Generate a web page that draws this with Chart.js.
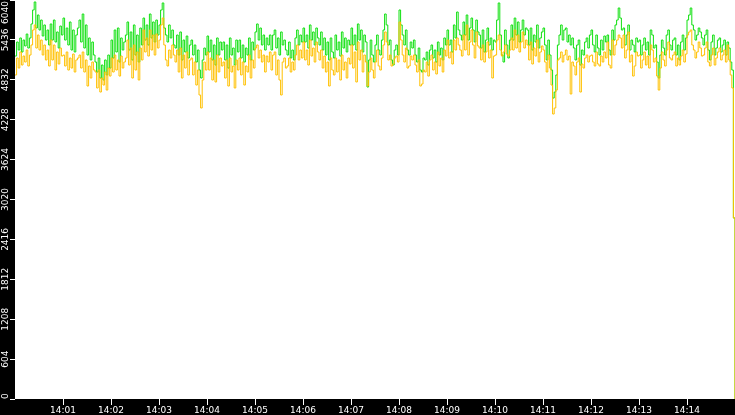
<!DOCTYPE html>
<html>
<head>
<meta charset="utf-8">
<script src="https://cdn.jsdelivr.net/npm/chart.js@4.4.1/dist/chart.umd.min.js"></script>
<style>
  html, body { margin: 0; padding: 0; background: #000; }
  #wrap { width: 735px; height: 415px; }
</style>
</head>
<body>
<div id="wrap"><canvas id="rateChart"></canvas></div>
<script>
// samples every 2 s starting at 14:00:00
const START_HOUR = 14;
const SAMPLE_SEC = 2;

const xTickSeconds = [60, 120, 180, 240, 300, 360, 420, 480, 540, 600, 660, 720, 780, 840];
const yTickValues = [0, 604, 1208, 1812, 2416, 3020, 3624, 4228, 4832, 5436, 6040];

const greenSeries = [
    5192, 5404, 5283, 5465, 5253, 5434, 5344, 5525, 5313, 5465,
    5677, 5889, 6010, 5616, 5813, 5586, 5737, 5495, 5662, 5434,
    5586, 5359, 5677, 5434, 5737, 5404, 5556, 5313, 5646, 5510,
    5767, 5434, 5616, 5359, 5707, 5283, 5586, 5253, 5510, 5616,
    5737, 5404, 5828, 5313, 5662, 5207, 5465, 5132, 5404, 5207,
    5101, 4950, 5162, 4859, 5056, 4829, 5132, 4905, 5207, 5010,
    5434, 5162, 5586, 5253, 5616, 5101, 5465, 5283, 5404, 5510,
    5707, 5283, 5556, 5132, 5662, 5207, 5510, 5101, 5616, 5359,
    5767, 5434, 5662, 5359, 5828, 5465, 5707, 5404, 5737, 5510,
    5662, 5889, 5995, 5616, 5510, 5404, 5662, 5465, 5586, 5359,
    5313, 5510, 5207, 5556, 5132, 5434, 5253, 5495, 5162, 5359,
    5434, 5207, 5359, 5101, 5283, 4980, 4859, 5132, 5313, 5207,
    5495, 5253, 5434, 5132, 5359, 5056, 5465, 5207, 5404, 5283,
    5404, 5132, 5359, 5010, 5465, 5207, 5313, 5056, 5434, 5253,
    5434, 5162, 5359, 5101, 5313, 5207, 5465, 5132, 5404, 5283,
    5556, 5677, 5434, 5616, 5359, 5510, 5283, 5465, 5359, 5510,
    5283, 5510, 5586, 5313, 5465, 5207, 5556, 5359, 5434, 5283,
    5207, 5404, 5162, 5283, 5132, 5465, 5586, 5359, 5510, 5404,
    5616, 5404, 5510, 5313, 5662, 5434, 5556, 5359, 5616, 5465,
    5359, 5556, 5283, 5465, 5207, 5404, 5132, 5465, 5253, 5162,
    5510, 5283, 5404, 5192, 5556, 5313, 5465, 5253, 5434, 5359,
    5616, 5359, 5510, 5283, 5677, 5434, 5586, 5253, 5510, 5404,
    4723, 5132, 5434, 5207, 5101, 5359, 5510, 5283, 5207, 5434,
    5586, 5828, 5662, 5359, 5434, 5132, 5056, 5283, 5359, 5207,
    5889, 5662, 5510, 5359, 5586, 5283, 5207, 5404, 5313, 5434,
    5207, 5101, 5313, 4980, 4950, 5162, 5132, 5253, 5056, 5283,
    5359, 5162, 5283, 5101, 5404, 5207, 5313, 5132, 5465, 5359,
    5586, 5359, 5434, 5253, 5662, 5465, 5858, 5586, 5510, 5434,
    5707, 5510, 5813, 5434, 5616, 5767, 5586, 5404, 5737, 5556,
    5510, 5313, 5586, 5253, 5434, 5616, 5359, 5465, 5283, 5434,
    5404, 5737, 5995, 5510, 5207, 5101, 5586, 5359, 5162, 5434,
    5662, 5434, 5767, 5510, 5707, 5404, 5586, 5737, 5510, 5616,
    5586, 5359, 5616, 5283, 5510, 5404, 5662, 5313, 5465, 5556,
    5616, 5359, 5132, 5434, 5207, 4980, 4556, 4647, 4905, 5359,
    5510, 5662, 5434, 5586, 5616, 5404, 5510, 5359, 5465, 5313,
    5132, 5359, 5434, 5056, 5283, 5207, 5404, 5465, 5313, 5510,
    5586, 5359, 5253, 5510, 5313, 5207, 5434, 5283, 5495, 5404,
    5510, 5283, 5207, 5586, 5434, 5662, 5737, 5919, 5767, 5586,
    5616, 5359, 5510, 5662, 5283, 5434, 5359, 5253, 5465, 5404,
    5434, 5207, 5359, 5465, 5283, 5404, 5207, 5586, 5510, 5313,
    5359, 5101, 4859, 5207, 5434, 5313, 5207, 5510, 5586, 5359,
    5283, 5434, 5465, 5207, 5359, 5132, 5404, 5510, 5283, 5465,
    5737, 5813, 5919, 5662, 5586, 5434, 5510, 5616, 5556, 5465,
    5359, 5510, 5586, 5283, 5132, 5404, 5510, 5207, 5313, 5434,
    5465, 5253, 5359, 5434, 5207, 5404, 5313, 5101, 4980, 2740,
    0
];

const orangeSeries = [
    4905, 5162, 5010, 5253, 5056, 5192, 5101, 5283, 5041, 5207,
    5359, 5586, 5662, 5313, 5510, 5283, 5434, 5207, 5359, 5132,
    5283, 5041, 5434, 5132, 5359, 4980, 5253, 5071, 5313, 5192,
    5207, 5041, 5253, 4980, 5162, 5010, 5222, 4950, 5132, 5162,
    5207, 5010, 5253, 4950, 5132, 4738, 5041, 4859, 5101, 4980,
    4950, 4708, 4980, 4647, 4859, 4753, 4950, 4677, 5010, 4889,
    5162, 4950, 5207, 4980, 5132, 4889, 5192, 5010, 5101, 5162,
    5434, 5056, 5313, 4859, 5359, 4980, 5253, 4829, 5313, 5132,
    5586, 5253, 5465, 5192, 5586, 5283, 5510, 5207, 5525, 5313,
    5434, 5662, 5767, 5359, 5132, 5041, 5283, 5162, 5359, 5207,
    5101, 5283, 4950, 5313, 4859, 5207, 5010, 5253, 4905, 5132,
    5162, 4905, 5101, 4753, 4980, 4602, 4405, 4829, 5101, 4980,
    5253, 4980, 5162, 4829, 5132, 4799, 5207, 4950, 5162, 5041,
    5101, 4859, 5132, 4738, 5162, 4950, 5041, 4708, 5132, 4980,
    5162, 4905, 5101, 4753, 5041, 4950, 5207, 4859, 5132, 5010,
    5313, 5359, 5162, 5283, 5101, 5207, 4950, 5192, 5101, 5253,
    4980, 5207, 5253, 4905, 5132, 4829, 4602, 5101, 5162, 5010,
    5041, 5162, 4950, 5101, 4980, 5207, 5359, 5132, 5283, 5162,
    5404, 5132, 5283, 5056, 5434, 5192, 5313, 5101, 5404, 5253,
    5132, 5283, 5010, 5192, 4950, 5101, 4738, 5162, 4980, 4905,
    5162, 4950, 5132, 4829, 5207, 4980, 5101, 4859, 5162, 5071,
    5359, 5010, 5253, 4799, 5404, 5132, 5283, 4950, 5207, 5101,
    4738, 4950, 5162, 4980, 4859, 5101, 5283, 5041, 4980, 5162,
    5359, 5556, 5404, 5132, 5207, 5041, 5071, 5162, 5192, 5101,
    5707, 5434, 5207, 5101, 5313, 5010, 5041, 5192, 5132, 5207,
    5056, 4950, 5132, 4738, 4768, 4980, 4950, 5101, 4889, 5132,
    5207, 4980, 5101, 4920, 5253, 5041, 5162, 4950, 5283, 5192,
    5434, 5162, 5253, 5071, 5434, 5283, 5465, 5359, 5283, 5192,
    5510, 5283, 5662, 5207, 5404, 5586, 5359, 5162, 5556, 5344,
    5313, 5132, 5359, 5101, 5253, 5404, 5162, 5283, 4859, 5192,
    5207, 5434, 5510, 5283, 5192, 5253, 5359, 5222, 5192, 5283,
    5465, 5283, 5586, 5313, 5510, 5253, 5404, 5556, 5313, 5434,
    5359, 5132, 5404, 5071, 5313, 5192, 5434, 5101, 5253, 5344,
    5283, 5101, 4950, 5207, 5010, 4753, 4314, 4405, 4677, 5132,
    5162, 5253, 5101, 5207, 5283, 5132, 5192, 4617, 5101, 5041,
    4905, 5101, 5162, 4647, 5071, 5010, 5162, 5207, 5101, 5192,
    5207, 5101, 5041, 5253, 5071, 5041, 5192, 5101, 5253, 5162,
    5404, 5056, 5010, 5434, 5207, 5359, 5434, 5510, 5465, 5313,
    5510, 5162, 5283, 5556, 5101, 5207, 4889, 5041, 5253, 5192,
    5207, 5010, 5132, 5253, 5056, 5192, 5010, 5359, 5283, 5101,
    5162, 4889, 4677, 5010, 5253, 5132, 5041, 5283, 5404, 5162,
    5132, 5207, 5253, 5041, 5162, 5056, 5192, 5283, 5101, 5222,
    5510, 5556, 5586, 5359, 5283, 5162, 5253, 5404, 5313, 5192,
    5207, 5313, 5404, 5101, 5041, 5207, 5313, 5056, 5162, 5253,
    5313, 5132, 5207, 5283, 5101, 5359, 5132, 4905, 4708, 2740,
    0
];

const AXIS_FONT = '9px "DejaVu Sans"';

function toPoints(values) {
    return values.map((v, i) => ({ x: i * SAMPLE_SEC, y: v }));
}

function timeLabel(sec) {
    const m = Math.round(sec / 60);
    return START_HOUR + ':' + String(m).padStart(2, '0');
}

// black strips around a white plot
const frame = {
    id: 'frame',
    beforeDraw(chart) {
        const { ctx, chartArea: a } = chart;
        ctx.save();
        ctx.fillStyle = '#000';
        ctx.fillRect(0, 0, chart.width, chart.height);
        ctx.fillStyle = '#fff';
        ctx.fillRect(a.left, a.top, a.right - a.left, a.bottom - a.top);
        ctx.restore();
    },
    // rotated y labels, kept inside the strip at both ends
    afterDraw(chart) {
        const { ctx, chartArea: a } = chart;
        const ys = chart.scales.y;
        ctx.save();
        ctx.font = AXIS_FONT;
        ctx.fillStyle = '#fff';
        ctx.textAlign = 'center';
        ctx.textBaseline = 'middle';
        ys.ticks.forEach(t => {
            const label = String(Math.round(t.value));
            const half = ctx.measureText(label).width / 2;
            let y = ys.getPixelForValue(t.value);
            y = Math.max(a.top + half + 1, Math.min(a.bottom - half, y));
            ctx.save();
            ctx.translate(6, y);
            ctx.rotate(-Math.PI / 2);
            ctx.fillText(label, 0, 0);
            ctx.restore();
        });
        ctx.restore();
    }
};

new Chart(document.getElementById('rateChart'), {
    type: 'line',
    data: {
        datasets: [
            {
                label: 'orange',
                data: toPoints(orangeSeries),
                borderColor: '#ffc000',
                borderWidth: 1,
                pointRadius: 0,
                stepped: true
            },
            {
                label: 'green',
                data: toPoints(greenSeries),
                borderColor: '#10e010',
                borderWidth: 1,
                pointRadius: 0,
                stepped: true
            }
        ]
    },
    options: {
        responsive: true,
        maintainAspectRatio: false,
        animation: false,
        events: [],
        layout: { padding: 0 },
        plugins: {
            legend: { display: false },
            tooltip: { enabled: false }
        },
        scales: {
            x: {
                type: 'linear',
                min: 0,
                max: 900,
                afterBuildTicks: s => { s.ticks = xTickSeconds.map(v => ({ value: v })); },
                afterFit: s => { s.height = 16; },
                border: { display: false },
                grid: { drawOnChartArea: false, color: '#fff', tickLength: 6, lineWidth: 1 },
                ticks: {
                    color: '#fff',
                    font: { family: 'DejaVu Sans', size: 9 },
                    padding: 0,
                    maxRotation: 0,
                    autoSkip: false,
                    callback: v => timeLabel(v)
                }
            },
            y: {
                min: 0,
                max: 6040,
                afterBuildTicks: s => { s.ticks = yTickValues.map(v => ({ value: v })); },
                afterFit: s => { s.width = 15; },
                border: { display: false },
                grid: { drawOnChartArea: false, color: '#fff', tickLength: 5, lineWidth: 1 },
                ticks: { display: false }
            }
        }
    },
    plugins: [frame]
});
</script>
</body>
</html>
